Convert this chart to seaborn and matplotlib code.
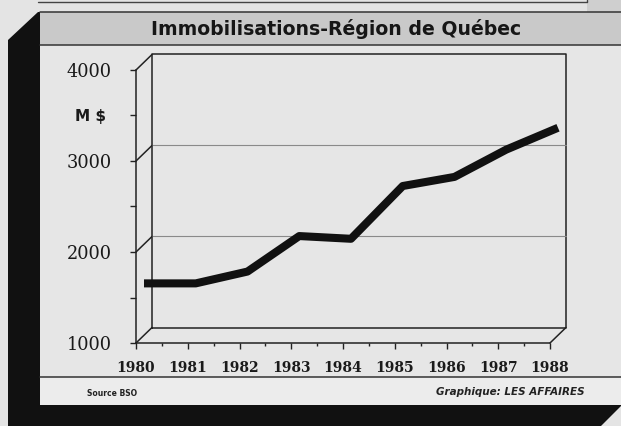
import matplotlib
matplotlib.use('Agg')
import matplotlib.pyplot as plt
import matplotlib.transforms as mtransforms
from matplotlib.patches import Polygon, Rectangle
import seaborn as sns

# donnees
years = [1980, 1981, 1982, 1983, 1984, 1985, 1986, 1987, 1988]
values = [1570, 1570, 1700, 2090, 2060, 2640, 2740, 3040, 3280]
y_major = [1000, 2000, 3000, 4000]
y_minor = [1500, 2500, 3500]
grid_values = [2000, 3000]
unit_label = 'M $'
title = 'Immobilisations-Région de Québec'
source = 'Source BSO'
credit = 'Graphique: LES AFFAIRES'

sns.set_style('white')
plt.rcParams['font.family'] = ['DejaVu Sans']

W, H = 621, 426
fig = plt.figure(figsize=(W / 100, H / 100), dpi=100, facecolor='#e4e4e4')

# cadre (coordonnees en pixels, y vers le bas)
bg = fig.add_axes([0, 0, 1, 1])
bg.set_xlim(0, W)
bg.set_ylim(H, 0)
bg.axis('off')
bg.add_patch(Rectangle((587, 0), 40, 12, color='#cfcfcf', lw=0))
bg.plot([38, 587, 587], [1.5, 1.5, 0], color='#444', lw=1)
bg.add_patch(Polygon([(8, 40), (38, 12), (41, 12), (41, 405), (622, 405),
                      (600, 427), (8, 427)], closed=True, color='#111', lw=0))
bg.add_patch(Rectangle((40, 12), 600, 393, color='#e6e6e6', lw=0))
bg.add_patch(Rectangle((40, 12), 600, 33, color='#c9c9c9', lw=0))
bg.add_patch(Rectangle((40, 377), 600, 28, color='#ececec', lw=0))
for yy in [12, 45, 377]:
    bg.plot([40, W], [yy, yy], color='#333', lw=1.1)
bg.text(336, 29, title, ha='center', va='center', fontsize=13.6,
        fontweight='heavy', color='#161616')
bg.text(87, 394, source, ha='left', va='center', fontsize=5.5,
        fontweight='bold', color='#222')
bg.text(585, 392, credit, ha='right', va='center', fontsize=7.5,
        fontweight='bold', fontstyle='italic', color='#222')
bg.text(106, 116, unit_label, ha='right', va='center', fontsize=11,
        fontweight='bold', color='#1a1a1a')

# axes du graphique (face avant)
ax = fig.add_axes([136 / W, 1 - 343 / H, 414 / W, 273 / H])
ax.patch.set_visible(False)
ax.set_xlim(years[0], years[-1])
ax.set_ylim(y_major[0], y_major[-1])
ax.autoscale(False)

depth = (16, 15.5)


def shifted(dx, dy):
    return ax.transData + mtransforms.ScaledTranslation(dx / 100, dy / 100, fig.dpi_scale_trans)


back = shifted(*depth)
mid = shifted(depth[0] / 2, depth[1] / 2)
frame = dict(color='#222', lw=1.1, clip_on=False)

# paroi arriere
x0, x1 = years[0], years[-1]
y0, y1 = y_major[0], y_major[-1]
ax.plot([x0, x0, x1, x1, x0], [y0, y1, y1, y0, y0], transform=back, **frame)
for g in grid_values:
    ax.plot([x0, x1], [g, g], transform=back, color='#8a8a8a', lw=0.8, clip_on=False)


def diag(x, v):
    px, py = ax.transData.transform((x, v))
    ax.plot([px, px + depth[0]], [py, py + depth[1]],
            transform=mtransforms.IdentityTransform(), **frame)


for v in y_major:
    diag(x0, v)
diag(x1, y0)

sns.lineplot(x=years, y=values, ax=ax, color='#111111', linewidth=5.8,
             transform=mid, solid_capstyle='butt', solid_joinstyle='round',
             clip_on=False, legend=False)

for s in ['top', 'right']:
    ax.spines[s].set_visible(False)
for s in ['left', 'bottom']:
    ax.spines[s].set_color('#222')
    ax.spines[s].set_linewidth(1.1)

ax.set_xticks(years)
ax.set_xticklabels([str(y) for y in years], fontfamily='DejaVu Serif',
                   fontweight='bold', fontsize=10, color='#1a1a1a')
ax.set_xticks([y + 0.5 for y in years[:-1]], minor=True)
ax.set_yticks(y_major)
ax.set_yticklabels([str(v) for v in y_major], fontfamily='DejaVu Serif',
                   fontsize=12.8, color='#1a1a1a')
ax.set_yticks(y_minor, minor=True)
ax.tick_params(axis='x', which='major', direction='out', length=4.3, width=1,
               color='#222', pad=9, bottom=True)
ax.tick_params(axis='x', which='minor', direction='out', length=2.2, width=1,
               color='#222', bottom=True)
ax.tick_params(axis='y', which='both', direction='out', length=4.3, width=1,
               color='#222', pad=13, left=True)
ax.set_xlabel('')
ax.set_ylabel('')

fig.savefig('out.png', dpi=100, facecolor=fig.get_facecolor())
